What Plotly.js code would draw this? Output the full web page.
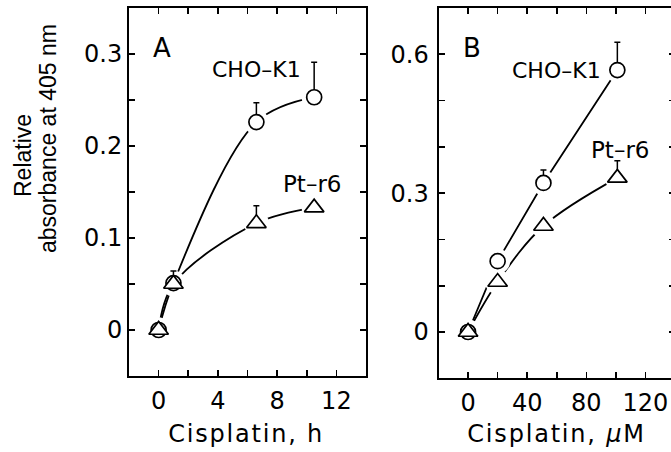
<!DOCTYPE html>
<html><head><meta charset="utf-8">
<script src="https://cdn.plot.ly/plotly-3.0.1.min.js"></script>
<style>html,body{margin:0;padding:0;overflow:hidden;background:#fff}</style>
</head><body><div id="chart"></div>
<script>
// Panel A: time course (h)
const timeH = [0, 1, 6.6, 10.5];
const choA = [0, 0.051, 0.226, 0.253];
const choAErr = [0, 0.013, 0.021, 0.038];
const ptA = [0, 0.05, 0.116, 0.133];
const ptAErr = [0, 0, 0.019, 0];
// Panel B: dose (uM)
const doseUM = [0, 20, 51, 101];
const choB = [0, 0.153, 0.322, 0.566];
const choBErr = [0, 0, 0.028, 0.06];
const ptB = [0, 0.108, 0.229, 0.333];
const ptBErr = [0, 0, 0, 0.037];
const zeros = [0, 0, 0, 0];
// tick positions and labels
const xTickValsA = [0, 2, 4, 6, 8, 10, 12];
const xTickTextA = ['0', '', '4', '', '8', '', '12'];
const yTickValsA = [0, 0.05, 0.1, 0.15, 0.2, 0.25, 0.3];
const yTickTextA = ['0', '', '0.1', '', '0.2', '', '0.3'];
const xTickValsB = [0, 20, 40, 60, 80, 100, 120];
const xTickTextB = ['0', '', '40', '', '80', '', '120'];
const yTickValsB = [0, 0.1, 0.2, 0.3, 0.4, 0.5, 0.6];
const yTickTextB = ['0', '', '', '0.3', '', '', '0.6'];

const W = 680, H = 452;
const px = v => v / W, py = v => 1 - v / H;
const font = 'DejaVu Sans, sans-serif';

function lineTrace(x, y, xa, ya, shape) {
  return {x, y, xaxis: xa, yaxis: ya, mode: 'lines', type: 'scatter',
    line: {color: 'black', width: 1.8, shape: shape, smoothing: 1}, hoverinfo: 'skip'};
}
function maskTrace(x, y, xa, ya) {
  return {x, y, xaxis: xa, yaxis: ya, mode: 'markers', type: 'scatter',
    marker: {symbol: 'circle', size: 25, color: 'white', line: {width: 0}}, hoverinfo: 'skip'};
}
function markTrace(x, y, err, xa, ya, sym, size) {
  return {x, y, xaxis: xa, yaxis: ya, mode: 'markers', type: 'scatter',
    marker: {symbol: sym, size: size, color: 'white', line: {color: 'black', width: 1.7}},
    error_y: {type: 'data', symmetric: false, array: err, arrayminus: zeros,
      color: 'black', thickness: 1.5, width: 3}};
}

const data = [
  lineTrace(timeH, choA, 'x', 'y', 'spline'),
  lineTrace(timeH, ptA, 'x', 'y', 'spline'),
  maskTrace(timeH, choA, 'x', 'y'),
  maskTrace(timeH, ptA, 'x', 'y'),
  markTrace(timeH, choA, choAErr, 'x', 'y', 'circle', 15),
  markTrace(timeH, ptA, ptAErr, 'x', 'y', 'triangle-up', 17),
  lineTrace(doseUM, choB, 'x2', 'y2', 'linear'),
  lineTrace(doseUM, ptB, 'x2', 'y2', 'spline'),
  maskTrace(doseUM, choB, 'x2', 'y2'),
  maskTrace(doseUM, ptB, 'x2', 'y2'),
  markTrace(doseUM, choB, choBErr, 'x2', 'y2', 'circle', 15),
  markTrace(doseUM, ptB, ptBErr, 'x2', 'y2', 'triangle-up', 17)
];

function axis(extra) {
  return Object.assign({
    showline: true, linecolor: 'black', linewidth: 2, mirror: 'ticks',
    ticks: 'inside', ticklen: 6, tickwidth: 1.6, tickcolor: 'black',
    showgrid: false, zeroline: false, fixedrange: true, tickmode: 'array',
    tickfont: {family: font, size: 24, color: 'black'}
  }, extra);
}

const ann = (text, x, y, xref, yref, size, extra) => Object.assign({
  text, x, y, xref, yref, showarrow: false, xanchor: 'center', yanchor: 'middle',
  font: {family: font, size: size, color: 'black'}}, extra || {});

const layout = {
  width: W, height: H, showlegend: false,
  margin: {l: 0, r: 0, t: 0, b: 0},
  paper_bgcolor: 'white', plot_bgcolor: 'white',
  xaxis: axis({domain: [px(129), px(366)], range: [-2, 14], tickvals: xTickValsA, ticktext: xTickTextA, anchor: 'y', ticklabelstandoff: 2}),
  yaxis: axis({domain: [py(376), py(8)], range: [-0.05, 0.35], tickvals: yTickValsA, ticktext: yTickTextA, anchor: 'x', ticklabelstandoff: 0}),
  xaxis2: axis({domain: [px(438.5), px(675)], range: [-20, 140], tickvals: xTickValsB, ticktext: xTickTextB, anchor: 'y2', ticklabelstandoff: 2}),
  yaxis2: axis({domain: [py(378.3), py(8)], range: [-0.1, 0.7], tickvals: yTickValsB, ticktext: yTickTextB, anchor: 'x2', ticklabelstandoff: 3}),
  annotations: [
    ann('A', 0.2, 0.307, 'x', 'y', 26),
    ann('CHO–K1', 6.6, 0.283, 'x', 'y', 22),
    ann('Pt–r6', 10.35, 0.159, 'x', 'y', 23),
    ann('B', 2.7, 0.613, 'x2', 'y2', 26),
    ann('CHO–K1', 60, 0.566, 'x2', 'y2', 22),
    ann('Pt–r6', 103, 0.393, 'x2', 'y2', 23),
    ann('Relative', px(23), py(156), 'paper', 'paper', 23, {textangle: -90, font: {family: 'Liberation Sans, sans-serif', size: 23, color: 'black'}}),
    ann('absorbance at 405 nm', px(48), py(139), 'paper', 'paper', 23, {textangle: -90, font: {family: 'Liberation Sans, sans-serif', size: 23, color: 'black'}}),
    ann('Cisplatin, h', px(246), py(434), 'paper', 'paper', 24),
    ann('Cisplatin, <i>μ</i>M', px(556), py(434), 'paper', 'paper', 24)
  ]
};
Plotly.newPlot('chart', data, layout, {displayModeBar: false, staticPlot: true}).then(() => {
  document.querySelectorAll('.annotation-text').forEach(el => {
    if (el.textContent.indexOf('Cisplatin') === 0) el.style.letterSpacing = '1.8px';
  });
});
</script></body></html>
